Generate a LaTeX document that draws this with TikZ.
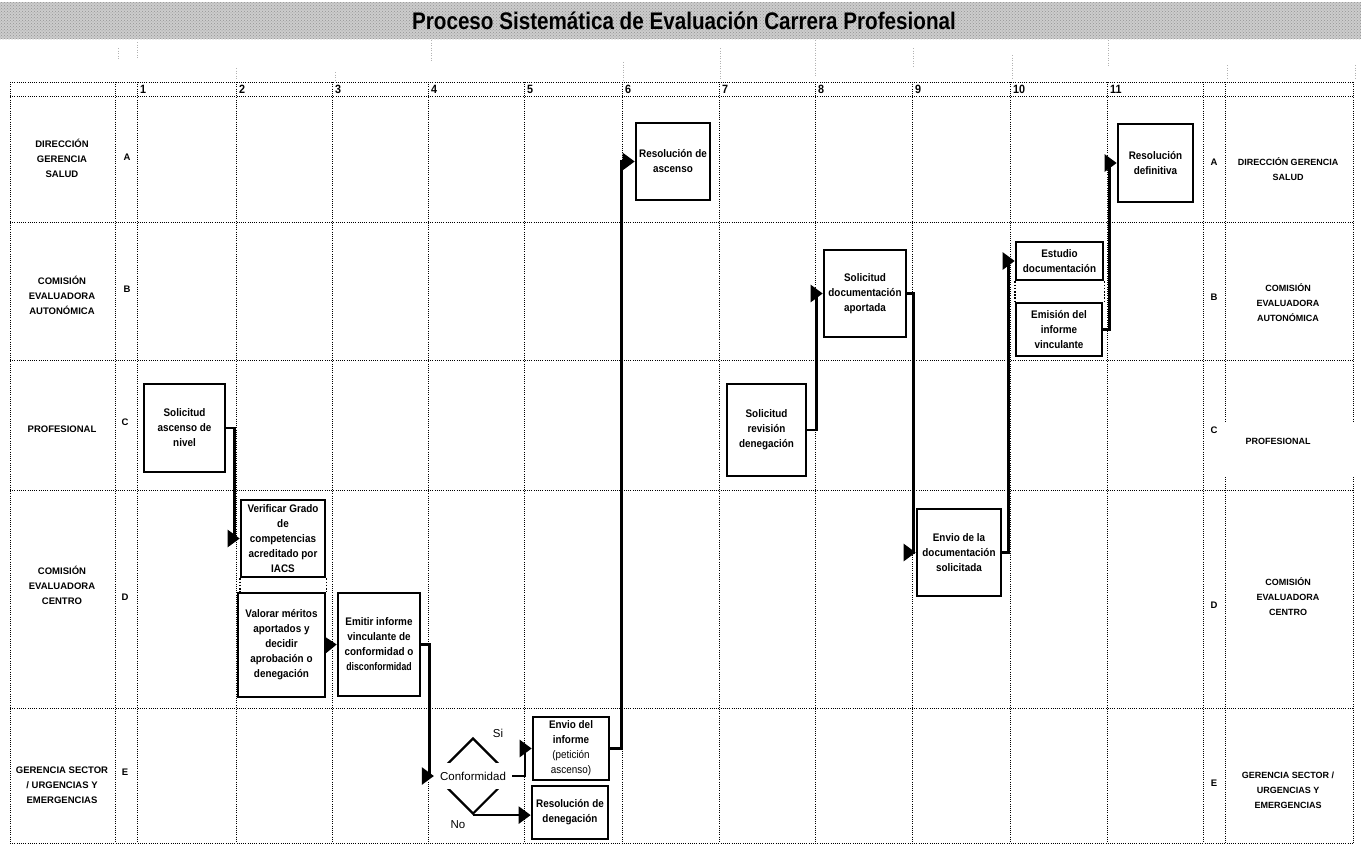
\documentclass[tikz,border=0pt]{standalone}
\usepackage{fontspec}
\setmainfont{Liberation Sans}
\newfontfamily\boxfont[FakeStretch=0.9]{Liberation Sans}
\newfontfamily\titlefont[FakeStretch=0.86]{Liberation Sans}
\usetikzlibrary{arrows.meta,shapes.geometric,patterns}
\begin{document}
\begin{tikzpicture}[x=1pt,y=-1pt,
  grid/.style={line width=1pt, dash pattern=on 1pt off 1.2pt},
  faint/.style={gray!60, line width=0.7pt, dash pattern=on 1pt off 1.5pt},
  box/.style={draw, line width=2.6pt, inner sep=0pt, align=center,
    font=\boxfont\bfseries\fontsize{11}{15}\selectfont},
  conn/.style={line width=2.4pt, -{Triangle[length=12pt,width=17pt]}},
  grp/.style={line width=1.6pt, dash pattern=on 1.6pt off 1.6pt},
  lab/.style={align=center, inner sep=0pt, font=\bfseries\fontsize{9.5}{15}\selectfont},
  rlab/.style={align=center, inner sep=0pt, font=\bfseries\fontsize{9}{15}\selectfont},
  let/.style={inner sep=0pt, font=\bfseries\fontsize{9.5}{12}\selectfont},
  num/.style={anchor=west, inner sep=0pt, font=\boxfont\bfseries\fontsize{12}{12}\selectfont},
  plain/.style={inner sep=0pt, font=\fontsize{11.5}{13}\selectfont}]
\useasboundingbox (0,0) rectangle (1361,847);
\fill[white] (0,0) rectangle (1361,847);
% banner
\fill[gray!40] (0,2) rectangle (1361,39);
\fill[pattern=crosshatch dots, pattern color=gray!85] (0,2) rectangle (1361,39);
\node[inner sep=0pt, font=\titlefont\bfseries\fontsize{24}{26}\selectfont] (title) at (684,21) {Proceso Sistemática de Evaluación Carrera Profesional};
% faint marks between banner and table
\foreach \x/\a/\b in {118/48/60,137/42/58,236/68/80,335/72/80,431/40/62,623/62/80,720/48/80,815/40/76,913/48/66,1012/55/78,1108/40/66,1227/65/78,1355/65/80}
  \draw[faint] (\x,\a) -- (\x,\b);
% grid
\foreach \y in {82,96,222,360,490,708,843}
  \draw[grid] (10,\y) -- (1353,\y);
\foreach \x in {10,115,137,236,332,428,524,622,719,815,912,1010,1107,1203}
  \draw[grid] (\x,82) -- (\x,843);
\foreach \x in {1225,1353}{
  \draw[grid] (\x,82) -- (\x,423);
  \draw[grid] (\x,477) -- (\x,843);}
% header numbers
\foreach \n/\x in {1/137,2/236,3/332,4/428,5/524,6/622,7/719,8/815,9/912,10/1010,11/1107}
  \node[num] (n\n) at (\x+3,89.5) {\n};
% left lane labels
\node[lab] (la) at (62,158) {DIRECCIÓN\\GERENCIA\\SALUD};
\node[lab] (lb) at (62,295) {COMISIÓN\\EVALUADORA\\AUTONÓMICA};
\node[lab] (lc) at (62,429) {PROFESIONAL};
\node[lab] (ld) at (62,585) {COMISIÓN\\EVALUADORA\\CENTRO};
\node[lab] (le) at (62,785) {GERENCIA SECTOR\\/ URGENCIAS Y\\EMERGENCIAS};
\node[let] (ka) at (127,157) {A};
\node[let] (kb) at (127,289) {B};
\node[let] (kc) at (125,422) {C};
\node[let] (kd) at (125,597) {D};
\node[let] (ke) at (125,772) {E};
% right lane labels
\node[let] (ra) at (1214,162) {A};
\node[let] (rb) at (1214,297) {B};
\node[let] (rc) at (1214,430) {C};
\node[let] (rd) at (1214,605) {D};
\node[let] (re) at (1214,783) {E};
\node[rlab] (ma) at (1288,169) {DIRECCIÓN GERENCIA\\SALUD};
\node[rlab] (mb) at (1288,303) {COMISIÓN\\EVALUADORA\\AUTONÓMICA};
\node[rlab] (mc) at (1278,441) {PROFESIONAL};
\node[rlab] (md) at (1288,597) {COMISIÓN\\EVALUADORA\\CENTRO};
\node[rlab] (me) at (1288,790) {GERENCIA SECTOR /\\URGENCIAS Y\\EMERGENCIAS};
% boxes
\node[box, minimum width=81pt, minimum height=88pt] (b1) at (184.5,428) {Solicitud\\ascenso de\\nivel};
\node[box, minimum width=84pt, minimum height=77pt] (b2) at (283,538.5) {Verificar Grado\\de\\competencias\\acreditado por\\IACS};
\node[box, minimum width=87pt, minimum height=104pt] (b3) at (281.5,645) {Valorar méritos\\aportados y\\decidir\\aprobación o\\denegación};
\node[box, minimum width=82pt, minimum height=103pt] (b4) at (379,644.5) {Emitir informe\\vinculante de\\conformidad o\\\scalebox{0.88}[1]{disconformidad}};
\node[box, minimum width=76pt, minimum height=63pt] (b6) at (571,748.5) {Envio del\\informe\\{\mdseries (petición}\\{\mdseries ascenso)}};
\node[box, minimum width=76pt, minimum height=53pt] (b7) at (570,812.5) {Resolución de\\denegación};
\node[box, minimum width=74pt, minimum height=77pt] (b8) at (673,161.5) {Resolución de\\ascenso};
\node[box, minimum width=79pt, minimum height=92pt] (b9) at (766.5,430) {Solicitud\\revisión\\denegación};
\node[box, minimum width=82pt, minimum height=87pt] (b10) at (865,293.5) {Solicitud\\documentación\\aportada};
\node[box, minimum width=84pt, minimum height=87pt] (b11) at (959,552.5) {Envio de la\\documentación\\solicitada};
\node[box, minimum width=87pt, minimum height=38pt] (b12) at (1059.5,261) {Estudio\\documentación};
\node[box, minimum width=86pt, minimum height=53pt] (b13) at (1059,329.5) {Emisión del\\informe\\vinculante};
\node[box, minimum width=75pt, minimum height=78pt] (b14) at (1155.5,163) {Resolución\\definitiva};
% decision
\node[diamond, draw, line width=2.2pt, minimum width=76pt, minimum height=76pt, inner sep=0pt] (dia) at (473,776) {};
\node[fill=white, minimum width=78pt, minimum height=26pt, inner sep=0pt, font=\fontsize{11.5}{13}\selectfont] (conf) at (473,776) {Conformidad};
\node[plain] (si) at (498,733) {Si};
\node[plain] (no) at (458,825) {No};
% grouping dotted links
\draw[grp] (b2.south west) -- (b2.south west |- b3.north);
\draw[grp] (b2.south east) -- (b2.south east |- b3.north);
\draw[grp] (b12.south west) -- (b12.south west |- b13.north);
\draw[grp] (b12.south east) -- (b12.south east |- b13.north);
% connectors
\draw[conn] (b1.east) -- ++(8,0) |- (b2.west);
\draw[conn] (b3.east) -- (b4.west);
\draw[conn] (b4.east) -- ++(8,0) |- (dia.west);
\draw[conn] (dia.east) -- ++(13,0) |- (b6.west);
\draw[conn] (dia.south) -- (dia.south -| b7.west);
\draw[conn] (b6.east) -- ++(11,0) |- (b8.west);
\draw[conn] (b9.east) -- ++(9,0) |- (b10.west);
\draw[conn] (b10.east) -- ++(6,0) |- (b11.west);
\draw[conn] (b11.east) -- ++(6,0) |- (b12.west);
\draw[conn] (b13.east) -- ++(6,0) |- (b14.west);
\end{tikzpicture}
\end{document}
